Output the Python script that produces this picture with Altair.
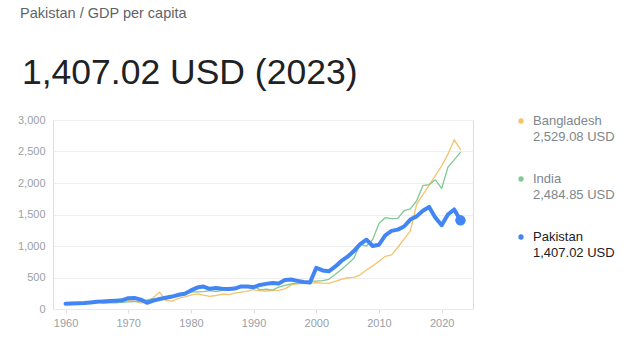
import altair as alt
import pandas as pd

years = list(range(1960, 2024))

pakistan = [83, 88, 91, 96, 105, 114, 121, 126, 131, 137,
            171, 174, 149, 99, 133, 158, 179, 197, 225, 243,
            295, 340, 356, 321, 333, 322, 319, 325, 359, 358,
            346, 382, 399, 414, 406, 459, 467, 447, 428, 421,
            655, 612, 598, 671, 763, 830, 920, 1030, 1100, 1000,
            1020, 1170, 1240, 1260, 1310, 1420, 1470, 1560, 1620, 1450,
            1330, 1500, 1580, 1407.02]

india = [82, 85, 90, 101, 116, 119, 90, 96, 99, 107,
         112, 118, 122, 143, 163, 158, 161, 186, 206, 224,
         267, 271, 275, 292, 277, 296, 310, 340, 354, 347,
         368, 303, 317, 301, 346, 374, 400, 415, 413, 441,
         443, 452, 471, 547, 628, 715, 807, 1028, 999, 1102,
         1358, 1450, 1434, 1438, 1560, 1590, 1714, 1958, 1974, 2050,
         1913, 2250, 2367, 2484.85]

bangladesh = [89, 92, 96, 93, 98, 104, 108, 119, 122, 131,
              134, 124, 93, 117, 179, 268, 137, 125, 169, 193,
              221, 239, 220, 200, 214, 235, 230, 253, 267, 285,
              306, 289, 286, 292, 297, 320, 383, 401, 407, 410,
              418, 410, 408, 438, 470, 496, 503, 543, 618, 684,
              757, 837, 859, 976, 1109, 1236, 1660, 1816, 1964, 2122,
              2270, 2458, 2688, 2529.08]

x_ticks = [1960, 1970, 1980, 1990, 2000, 2010, 2020]
y_ticks = [0, 500, 1000, 1500, 2000, 2500, 3000]

series_names = ["Bangladesh", "India", "Pakistan"]
series_values = [bangladesh, india, pakistan]
latest_labels = ["2,529.08 USD", "2,484.85 USD", "1,407.02 USD"]
colors = ["#F6C26B", "#81C995", "#4285F4"]
widths = [1.3, 1.3, 4]
label_colors = ["#80868b", "#80868b", "#202124"]

rows = []
for name, vals in zip(series_names, series_values):
    for y, v in zip(years, vals):
        rows.append({"year": y, "value": v, "country": name})
df = pd.DataFrame(rows)

W, H = 420, 189

xscale = alt.Scale(domain=[1958, 2025], nice=False, zero=False)
yscale = alt.Scale(domain=[0, 3000], nice=False)

xaxis = alt.Axis(title=None, values=x_ticks, format="d", grid=False, labelColor="#9aa0a6",
                 labelFontSize=11, labelFont="Arial", domainColor="#e8eaed", tickColor="#dadce0",
                 tickSize=4, labelPadding=4)
yaxis = alt.Axis(title=None, values=y_ticks, format=",d", gridColor="#eeeeee", domain=False,
                 ticks=False, labelColor="#9aa0a6", labelFontSize=11, labelFont="Arial",
                 labelPadding=8, labelOverlap=False)

X = alt.X("year:Q", scale=xscale, axis=xaxis)
Y = alt.Y("value:Q", scale=yscale, axis=yaxis)

layers = []
for name, col, sw in zip(series_names, colors, widths):
    layers.append(
        alt.Chart(df).transform_filter(alt.datum.country == name)
        .mark_line(color=col, strokeWidth=sw, strokeJoin="round", strokeCap="round")
        .encode(x=X, y=Y)
    )

# end point for Pakistan
last = pd.DataFrame({"year": [years[-1]], "value": [pakistan[-1]]})
layers.append(
    alt.Chart(last).mark_circle(color="#4285F4", size=110, opacity=1).encode(x=X, y=Y)
)

# legend
for i, (name, lab, col, lc) in enumerate(zip(series_names, latest_labels, colors, label_colors)):
    ldf = pd.DataFrame({"name": [name], "lab": [lab]})
    base_y = 1 + i * 58
    layers.append(
        alt.Chart(ldf).mark_circle(color=col, size=28, opacity=1)
        .encode(x=alt.value(468), y=alt.value(base_y))
    )
    layers.append(
        alt.Chart(ldf).mark_text(align="left", baseline="middle", fontSize=13, font="Arial", color=lc)
        .encode(text="name:N", x=alt.value(480), y=alt.value(base_y))
    )
    layers.append(
        alt.Chart(ldf).mark_text(align="left", baseline="middle", fontSize=13, font="Arial", color=lc)
        .encode(text="lab:N", x=alt.value(480), y=alt.value(base_y + 16))
    )

# header texts
hdr = pd.DataFrame({"crumb": ["Pakistan  /  GDP per capita"], "big": ["1,407.02 USD (2023)"]})
layers.append(
    alt.Chart(hdr).mark_text(align="left", baseline="middle", fontSize=14.5, font="Arial", color="#5f6368")
    .encode(text="crumb:N", x=alt.value(-33), y=alt.value(-106))
)
layers.append(
    alt.Chart(hdr).mark_text(align="left", baseline="middle", fontSize=35.5, font="Arial", color="#202124")
    .encode(text="big:N", x=alt.value(-31), y=alt.value(-47))
)

chart = alt.layer(*layers).properties(
    width=W, height=H,
    autosize=alt.AutoSizeParams(type="none"),
    padding={"left": 53, "top": 120, "right": 162, "bottom": 48},
).configure_view(stroke=None).configure(background="white")

chart.save("out.html", embed_options={"renderer": "svg", "actions": False})
